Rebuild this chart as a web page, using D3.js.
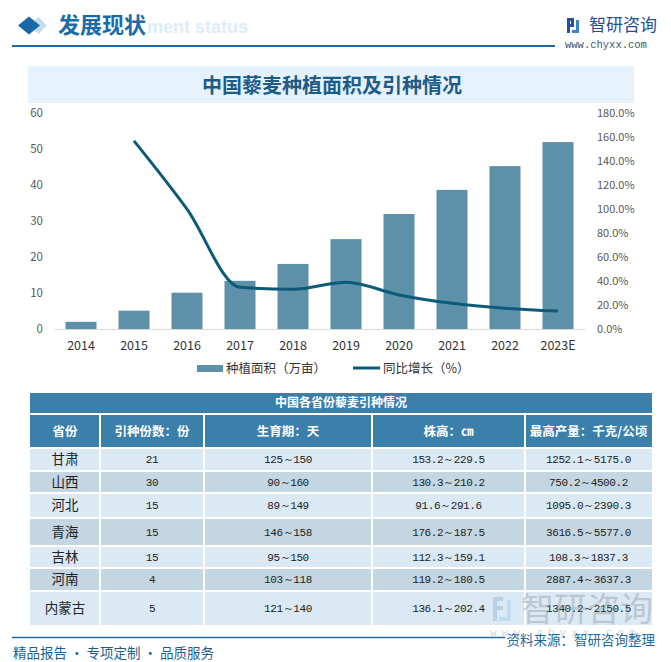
<!DOCTYPE html>
<html>
<head>
<meta charset="utf-8">
<script src="https://cdn.jsdelivr.net/npm/d3@7"></script>
<style>
  html, body { margin: 0; padding: 0; background: #fff; }
  svg { display: block; }
</style>
</head>
<body>
<svg id="chart" width="671" height="662" font-family="Noto Sans CJK SC, Liberation Sans, sans-serif"></svg>
<script>
// ---------- data ----------
const years = ['2014','2015','2016','2017','2018','2019','2020','2021','2022','2023E'];
const plantingArea = [2.0, 5.1, 10.1, 13.4, 18.1, 25.0, 32.0, 38.7, 45.3, 52.0];        // 万亩
const yoyGrowth = [null, 1.57, 1.00, 0.348, 0.331, 0.39, 0.284, 0.214, 0.173, 0.15];      // 同比增长
const leftTicks = [0, 10, 20, 30, 40, 50, 60];
const rightTicks = [0, 0.2, 0.4, 0.6, 0.8, 1.0, 1.2, 1.4, 1.6, 1.8];

const tableTitle = '中国各省份藜麦引种情况';
const columns = ['省份', '引种份数：份', '生育期：天', '株高：㎝', '最高产量：千克/公顷'];
const provinces = ['甘肃','山西','河北','青海','吉林','河南','内蒙古'];
const introCounts = ['21','30','15','15','15','4','5'];
const growthPeriod = ['125～150','90～160','89～149','146～158','95～150','103～118','121～140'];
const plantHeight = ['153.2～229.5','130.3～210.2','91.6～291.6','176.2～187.5','112.3～159.1','119.2～180.5','136.1～202.4'];
const maxYield = ['1252.1～5175.0','750.2～4500.2','1095.0～2390.3','3616.5～5577.0','108.3～1837.3','2887.4～3637.3','1340.2～2150.5'];

// ---------- setup ----------
const svg = d3.select('#chart');
const MONO = 'Liberation Mono, DejaVu Sans Mono, monospace';
const CJK = 'Noto Sans CJK SC, Liberation Sans, sans-serif';

// header
svg.append('text').attr('x', 147).attr('y', 33)
  .attr('font-family', 'Liberation Sans, sans-serif').attr('font-weight', 'bold')
  .attr('font-size', 18).attr('fill', '#dcecf8').text('ment status');
svg.append('polygon').attr('points', '38.5,17 47,25.5 38.5,34 30,25.5').attr('fill', '#c4dcee');
svg.append('polygon').attr('points', '29,16.5 40,25.5 29,34.5 18,25.5').attr('fill', '#1769aa');
svg.append('text').attr('x', 58).attr('y', 25).attr('dy', '0.36em')
  .attr('font-size', 22).attr('font-weight', 'bold').attr('fill', '#1a6ba8').text('发展现状');
svg.append('line').attr('x1', 12).attr('x2', 555).attr('y1', 46).attr('y2', 46)
  .attr('stroke', '#1d6aa0').attr('stroke-width', 1.8);

// logo top right
const logo = svg.append('g').attr('transform', 'translate(567,18)');
logo.append('rect').attr('x', 0).attr('y', 0).attr('width', 7).attr('height', 3).attr('fill', '#2b4f9a');
logo.append('rect').attr('x', 0).attr('y', 0).attr('width', 3).attr('height', 15).attr('fill', '#2b4f9a');
logo.append('rect').attr('x', 0).attr('y', 6).attr('width', 7).attr('height', 3).attr('fill', '#2b4f9a');
logo.append('rect').attr('x', 4).attr('y', 0).attr('width', 3).attr('height', 9).attr('fill', '#2b4f9a');
logo.append('rect').attr('x', 9).attr('y', 2).attr('width', 3).attr('height', 13).attr('fill', '#3a84c8');
logo.append('rect').attr('x', 5).attr('y', 12).attr('width', 7).attr('height', 3).attr('fill', '#3a84c8');
svg.append('text').attr('x', 589).attr('y', 25).attr('dy', '0.36em')
  .attr('font-size', 17).attr('fill', '#26508f').text('智研咨询');
svg.append('text').attr('x', 565).attr('y', 44).attr('dy', '0.35em')
  .attr('font-family', MONO).attr('font-size', 10.5)
  .attr('fill', '#44546a').text('www.chyxx.com');

// chart title box
svg.append('rect').attr('x', 28).attr('y', 66).attr('width', 606).attr('height', 37).attr('fill', '#e5f2fb');
svg.append('text').attr('x', 332).attr('y', 86).attr('dy', '0.36em').attr('text-anchor', 'middle')
  .attr('font-size', 20).attr('font-weight', 'bold').attr('fill', '#1d5c88').text('中国藜麦种植面积及引种情况');

// ---------- chart ----------
const x = d3.scaleBand().domain(years).range([54.5, 584.5]).paddingInner(0.415).paddingOuter(0.2075);
const yL = d3.scaleLinear().domain([0, 60]).range([329, 113.3]);
const yR = d3.scaleLinear().domain([0, 1.8]).range([329, 113.3]);

const gL = svg.append('g').attr('transform', 'translate(46,0)')
  .call(d3.axisLeft(yL).tickValues(leftTicks).tickSize(0).tickPadding(3));
gL.attr('font-family', CJK).attr('font-size', 11.5);
gL.select('.domain').remove();
gL.selectAll('text').attr('fill', '#595959');

const gR = svg.append('g').attr('transform', 'translate(594,0)')
  .call(d3.axisRight(yR).tickValues(rightTicks).tickFormat(d3.format('.1%')).tickSize(0).tickPadding(3));
gR.attr('font-family', CJK).attr('font-size', 11);
gR.select('.domain').remove();
gR.selectAll('text').attr('fill', '#595959');

svg.append('g').selectAll('rect').data(years).join('rect')
  .attr('x', d => x(d)).attr('width', x.bandwidth())
  .attr('y', (d, i) => yL(plantingArea[i])).attr('height', (d, i) => yL(0) - yL(plantingArea[i]))
  .attr('fill', '#5d91a9');

const gX = svg.append('g').attr('transform', `translate(0,${yL(0)})`)
  .call(d3.axisBottom(x).tickSize(0).tickSizeOuter(0).tickPadding(12));
gX.attr('font-family', CJK).attr('font-size', 12.5);
gX.select('.domain').attr('stroke', '#d9d9d9');
gX.selectAll('text').attr('fill', '#333');

const lineData = years.map((d, i) => ({ year: d, v: yoyGrowth[i] })).filter(d => d.v !== null);
svg.append('path').datum(lineData)
  .attr('d', d3.line().x(d => x(d.year) + x.bandwidth() / 2).y(d => yR(d.v)).curve(d3.curveMonotoneX))
  .attr('fill', 'none').attr('stroke', '#0c5a78').attr('stroke-width', 3).attr('stroke-linejoin', 'round');

// legend
svg.append('rect').attr('x', 197).attr('y', 365).attr('width', 26).attr('height', 7).attr('fill', '#5d91a9');
svg.append('text').attr('x', 226).attr('y', 368).attr('dy', '0.36em').attr('font-size', 12.5).attr('fill', '#333').text('种植面积（万亩）');
svg.append('line').attr('x1', 353).attr('x2', 380).attr('y1', 368).attr('y2', 368).attr('stroke', '#0c5a78').attr('stroke-width', 3);
svg.append('text').attr('x', 383).attr('y', 368).attr('dy', '0.36em').attr('font-size', 12.5).attr('fill', '#333').text('同比增长（%）');

// ---------- table ----------
const colEdges = [30, 100, 204, 372, 525, 652];
const rowEdges = [[449, 470], [472, 492], [494, 517], [519, 545], [547, 567], [569, 590], [592, 625]];
const HEAD = '#3b7fab';
const tbl = svg.append('g');
tbl.append('rect').attr('x', 30).attr('y', 393).attr('width', 622).attr('height', 20).attr('fill', HEAD);
tbl.append('text').attr('x', 341).attr('y', 403).attr('dy', '0.36em').attr('text-anchor', 'middle')
  .attr('font-size', 12).attr('font-weight', 'bold').attr('fill', '#fff').text(tableTitle);

columns.forEach((c, j) => {
  const x0 = colEdges[j] + (j ? 1 : 0), x1 = colEdges[j + 1] - (j < 4 ? 1 : 0);
  tbl.append('rect').attr('x', x0).attr('y', 415).attr('width', x1 - x0).attr('height', 32).attr('fill', HEAD);
  tbl.append('text').attr('x', (colEdges[j] + colEdges[j + 1]) / 2).attr('y', 431).attr('dy', '0.36em')
    .attr('text-anchor', 'middle').attr('font-size', 12.5).attr('font-weight', 'bold').attr('fill', '#fff').text(c);
});

const tableCols = [provinces, introCounts, growthPeriod, plantHeight, maxYield];
provinces.forEach((p, i) => {
  const [r0, r1] = rowEdges[i];
  const fill = i % 2 === 0 ? '#dae9f3' : '#c3d6e1';
  tableCols.forEach((col, j) => {
    const x0 = colEdges[j] + (j ? 1 : 0), x1 = colEdges[j + 1] - (j < 4 ? 1 : 0);
    tbl.append('rect').attr('x', x0).attr('y', r0).attr('width', x1 - x0).attr('height', r1 - r0).attr('fill', fill);
    const t = tbl.append('text').attr('x', (colEdges[j] + colEdges[j + 1]) / 2).attr('y', (r0 + r1) / 2)
      .attr('dy', '0.36em').attr('text-anchor', 'middle').attr('fill', '#222').text(col[i]);
    if (j === 0) t.attr('font-size', 13.5);
    else t.attr('font-family', MONO).attr('font-size', 11).attr('letter-spacing', '-0.4px');
  });
});

// watermark bottom right
const wm = svg.append('g').attr('opacity', 0.35);
wm.append('rect').attr('x', 493).attr('y', 597).attr('width', 10).attr('height', 4).attr('fill', '#7fa6c6');
wm.append('rect').attr('x', 493).attr('y', 597).attr('width', 4).attr('height', 24).attr('fill', '#7fa6c6');
wm.append('rect').attr('x', 493).attr('y', 606).attr('width', 10).attr('height', 4).attr('fill', '#7fa6c6');
wm.append('rect').attr('x', 507).attr('y', 600).attr('width', 4).attr('height', 21).attr('fill', '#9cc4e4');
wm.append('rect').attr('x', 499).attr('y', 617).attr('width', 12).attr('height', 4).attr('fill', '#9cc4e4');
wm.append('text').attr('x', 521).attr('y', 609).attr('dy', '0.36em').attr('font-size', 33).attr('fill', '#7d8a96').text('智研咨询');
wm.append('text').attr('x', 490).attr('y', 632).attr('dy', '0.35em').attr('font-family', MONO)
  .attr('font-size', 11).attr('letter-spacing', '5px').attr('fill', '#7d8a96').text('www.chyxx.com');

// ---------- footer ----------
svg.append('line').attr('x1', 12).attr('x2', 505).attr('y1', 637.5).attr('y2', 637.5).attr('stroke', '#1d6aa0').attr('stroke-width', 1.5);
svg.append('text').attr('x', 13).attr('y', 653).attr('dy', '0.36em').attr('font-size', 13.5)
  .attr('fill', '#1d5f8a').text('精品报告 · 专项定制 · 品质服务');
svg.append('text').attr('x', 655).attr('y', 640).attr('dy', '0.36em').attr('text-anchor', 'end').attr('font-size', 13.5)
  .attr('fill', '#1d6aa0').text('资料来源：智研咨询整理');
</script>
</body>
</html>
